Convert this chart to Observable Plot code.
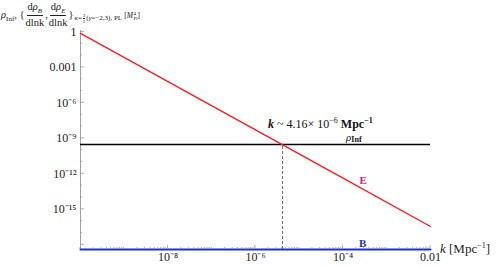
<!DOCTYPE html>
<html><head><meta charset="utf-8">
<script src="https://cdn.jsdelivr.net/npm/d3@7"></script>
<script src="https://cdn.jsdelivr.net/npm/@observablehq/plot@0.6"></script>
<style>
body{margin:0;background:#fff;}
#wrap{position:relative;width:498px;height:267px;font-family:"Liberation Serif","Times New Roman",serif;color:#222;}
#ttl{position:absolute;left:1px;top:2px;font-size:10.5px;display:flex;align-items:center;line-height:1;white-space:nowrap;}
.sb{font-size:7px;position:relative;top:3px;}
.frac{display:inline-flex;flex-direction:column;align-items:center;margin:0 1px;}
.frac .num{border-bottom:0.8px solid #222;padding:0 1px 2px;}
.frac .den{padding-top:2px;}
.lowsub{font-size:7px;position:relative;top:3px;margin-left:1px;display:inline-flex;align-items:center;}
.sfrac{display:inline-flex;flex-direction:column;align-items:center;font-size:5px;line-height:1;margin:0 1px;}
.sfrac span:first-child{border-bottom:0.5px solid #222;}
.unit{font-size:7.5px;margin-left:2px;position:relative;top:1px;display:inline-flex;align-items:center;}
.ms{display:inline-flex;flex-direction:column;font-size:5px;line-height:1;margin-left:0.5px;}
</style></head><body>
<div id="wrap">
<div id="ttl"><span><i>ρ</i><span class="sb">Inf</span>,&nbsp;{</span><span class="frac"><span class="num">d<i>ρ</i><span class="sb"><i>B</i></span></span><span class="den">dlnk</span></span><span>,</span><span class="frac"><span class="num">d<i>ρ</i><span class="sb"><i>E</i></span></span><span class="den">dlnk</span></span><span>}</span><span class="lowsub"><i>κ</i>=<span class="sfrac"><span>3</span><span>2</span></span>(<i>γ</i>=−2,3), PL</span><span class="unit">[<i>M</i><span class="ms"><span>4</span><span>Pl</span></span>]</span></div>
</div>
<script>
const kGrid = [1e-10, 1e-8, 1e-6, 1e-4, 1e-2];
const eSpectrum = [0.75, 6.2e-5, 5.2e-9, 4.3e-13, 3.5e-17];
const bSpectrum = [4e-19, 4e-19, 4e-19, 4e-19, 4e-19];
const rhoInf = 3.0e-10;
const kCross = 4.16e-6;
const xTickValues = [1e-8, 1e-6, 1e-4, 1e-2];
const xTickLabels = ["10⁻⁸", "10⁻⁶", "10⁻⁴", "0.01"];
const yTickValues = [1, 1e-3, 1e-6, 1e-9, 1e-12, 1e-15];
const yTickLabels = ["1", "0.001", "10⁻⁶", "10⁻⁹", "10⁻¹²", "10⁻¹⁵"];
const xDomain = [1e-10, 1e-2];
const yDomain = [4e-19, 1.3];
const curveLabels = [
  {k: 2.9e-4, v: 2.7e-13, t: "E", c: "#e0177a"},
  {k: 2.8e-4, v: 1.4e-18, t: "B", c: "#1f2fd6"}
];

const xLab = new Map(xTickValues.map((t, i) => [t, xTickLabels[i]]));
const yLab = new Map(yTickValues.map((t, i) => [t, yTickLabels[i]]));
const rows = vals => kGrid.map((k, i) => ({k, v: vals[i]}));

const plot = Plot.plot({
  width: 498, height: 267,
  marginLeft: 80, marginRight: 68, marginTop: 30, marginBottom: 18,
  style: {fontFamily: "'Liberation Serif','Times New Roman',serif", fontSize: "12px", color: "#222", background: "white", overflow: "visible"},
  x: {type: "log", domain: xDomain, axis: null},
  y: {type: "log", domain: yDomain, axis: null},
  marks: [
    Plot.ruleX([xDomain[0]], {stroke: "#a0a0a0", strokeWidth: 1}),
    Plot.ruleY([yDomain[0]], {stroke: "#a0a0a0", strokeWidth: 1}),
    Plot.axisX({ticks: xTickValues, tickFormat: d => xLab.get(d), tickSize: 0, tickPadding: 3, anchor: "bottom", fontSize: 12, label: null}),
    Plot.axisY({ticks: yTickValues, tickFormat: d => yLab.get(d), tickSize: 0, tickPadding: 4, anchor: "left", fontSize: 12, label: null}),
    Plot.ruleY([rhoInf], {stroke: "black", strokeWidth: 1.3}),
    Plot.ruleX([kCross], {y1: yDomain[0], y2: rhoInf, stroke: "#666", strokeDasharray: "3,2", strokeWidth: 1}),
    Plot.line(rows(eSpectrum), {x: "k", y: "v", stroke: "#ff1a1a", strokeWidth: 1.3}),
    Plot.line(rows(bSpectrum), {x: "k", y: "v", stroke: "#1f2fd6", strokeWidth: 2}),
    Plot.text(curveLabels, {x: "k", y: "v", text: "t", fill: "c", fontWeight: "bold", fontSize: 11})
  ]
});

document.getElementById("wrap").appendChild(plot);

const sx = plot.scale("x"), sy = plot.scale("y");
const svg = d3.select(plot);
const tg = svg.append("g").attr("stroke", "#9a9a9a").attr("stroke-width", 0.8);
const y0 = sy.apply(yDomain[0]);
for (let e = -10; e < -2; e++) {
  for (let m = 1; m < 10; m++) {
    const v = m * Math.pow(10, e);
    const px = sx.apply(v);
    const major = m === 1 && xTickValues.some(t => Math.abs(Math.log10(t) - e) < 1e-9);
    tg.append("line").attr("x1", px).attr("x2", px).attr("y1", y0).attr("y2", y0 - (major ? 4 : 2));
  }
}
tg.append("line").attr("x1", sx.apply(1e-2)).attr("x2", sx.apply(1e-2)).attr("y1", y0).attr("y2", y0 - 4);
const x0 = sx.apply(xDomain[0]);
for (let e = 0; e >= -18; e--) {
  const py = sy.apply(Math.pow(10, e));
  const major = e % 3 === 0;
  tg.append("line").attr("x1", x0).attr("x2", x0 + (major ? 4 : 2)).attr("y1", py).attr("y2", py);
}

const ax = sx.apply(kCross), ay = sy.apply(rhoInf);
const t1 = svg.append("text").attr("text-anchor", "start").attr("x", ax - 14).attr("y", ay - 16).attr("font-size", 12).attr("fill", "#111");
t1.append("tspan").attr("font-weight", "bold").attr("font-style", "italic").text("k");
t1.append("tspan").text(" ~ 4.16× 10");
t1.append("tspan").attr("font-size", 8).attr("dy", -5).text("−6");
t1.append("tspan").attr("font-weight", "bold").attr("dy", 5).text(" Mpc");
t1.append("tspan").attr("font-weight", "bold").attr("font-size", 8).attr("dy", -5).text("−1");

const t2 = svg.append("text").attr("text-anchor", "start").attr("x", ax + 64).attr("y", ay - 3).attr("font-size", 11).attr("fill", "#111");
t2.append("tspan").attr("font-style", "italic").text("ρ");
t2.append("tspan").attr("font-weight", "bold").attr("font-size", 8).attr("dy", 1).text("Inf");

const t3 = svg.append("text").attr("text-anchor", "start").attr("x", sx.apply(xDomain[1]) + 10).attr("y", y0 + 4).attr("font-size", 13).attr("fill", "#222");
t3.append("tspan").attr("font-style", "italic").text("k");
t3.append("tspan").text(" [Mpc");
t3.append("tspan").attr("font-size", 8).attr("dy", -5).text("−1");
t3.append("tspan").attr("dy", 5).text("]");
</script>
</body></html>
